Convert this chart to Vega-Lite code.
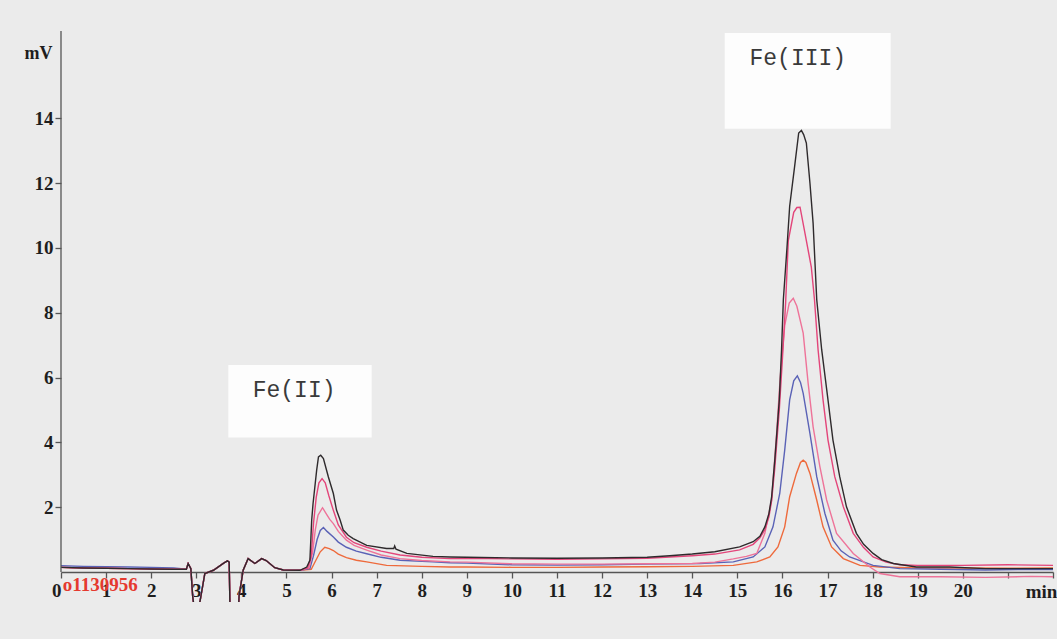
{
"$schema": "https://vega.github.io/schema/vega-lite/v6.json",
"width": 992, "height": 571,
"autosize": {"type": "none"},
"padding": {"left": 61, "top": 31, "right": 4, "bottom": 37},
"background": "#ebebeb",
"config": {"view": {"stroke": null}},
"datasets": {
"boxes": [
{"x": 14.72, "x2": 18.40, "y": 13.68, "y2": 16.64},
{"x": 3.71, "x2": 6.89, "y": 4.15, "y2": 6.39}
],
"labels": [
{"x": 16.34, "y": 15.87, "text": "Fe(III)"},
{"x": 5.17, "y": 5.62, "text": "Fe(II)"}
],
"axisline": [{"x": 0, "y": 0, "y2": 16.7}],
"code": [{"x": 0.04, "y": -0.41, "text": "o1130956"}],
"traces": [
{"s":"1","t":0,"v":0.14},{"s":"1","t":0.5,"v":0.12},{"s":"1","t":1,"v":0.11},{"s":"1","t":1.5,"v":0.1},{"s":"1","t":2,"v":0.09},{"s":"1","t":2.5,"v":0.08},{"s":"1","t":2.78,"v":0.08},{"s":"1","t":2.82,"v":0.26},{"s":"1","t":2.88,"v":0.1},{"s":"1","t":2.92,"v":-0.75},{"s":"1","t":2.97,"v":-1.3},{"s":"1","t":3.08,"v":-0.93},{"s":"1","t":3.19,"v":-0.05},{"s":"1","t":3.38,"v":0.05},{"s":"1","t":3.6,"v":0.26},{"s":"1","t":3.69,"v":0.34},{"s":"1","t":3.73,"v":0.3},{"s":"1","t":3.75,"v":-1.3},{"s":"1","t":3.93,"v":-1.3},{"s":"1","t":3.95,"v":-0.73},{"s":"1","t":4.04,"v":0.05},{"s":"1","t":4.15,"v":0.41},{"s":"1","t":4.3,"v":0.26},{"s":"1","t":4.45,"v":0.41},{"s":"1","t":4.55,"v":0.35},{"s":"1","t":4.74,"v":0.13},{"s":"1","t":4.93,"v":0.06},{"s":"1","t":5.3,"v":0.05},
{"s":"1","t":5.55,"v":0.08},{"s":"1","t":5.65,"v":0.35},{"s":"1","t":5.75,"v":0.62},{"s":"1","t":5.85,"v":0.76},{"s":"1","t":5.95,"v":0.72},{"s":"1","t":6.04,"v":0.66},{"s":"1","t":6.15,"v":0.55},{"s":"1","t":6.33,"v":0.44},{"s":"1","t":6.55,"v":0.36},{"s":"1","t":6.78,"v":0.31},{"s":"1","t":7.22,"v":0.2},{"s":"1","t":8,"v":0.17},{"s":"1","t":8.63,"v":0.15},{"s":"1","t":9,"v":0.15},{"s":"1","t":10,"v":0.14},{"s":"1","t":11,"v":0.14},{"s":"1","t":12,"v":0.15},{"s":"1","t":13,"v":0.16},{"s":"1","t":14,"v":0.17},{"s":"1","t":14.91,"v":0.2},{"s":"1","t":15.43,"v":0.31},{"s":"1","t":15.72,"v":0.46},{"s":"1","t":15.9,"v":0.77},{"s":"1","t":16.05,"v":1.39},{"s":"1","t":16.16,"v":2.32},{"s":"1","t":16.31,"v":3.04},{"s":"1","t":16.4,"v":3.38},{"s":"1","t":16.46,"v":3.45},{"s":"1","t":16.52,"v":3.38},{"s":"1","t":16.61,"v":3.04},{"s":"1","t":16.76,"v":2.22},{"s":"1","t":16.9,"v":1.39},{"s":"1","t":17.09,"v":0.77},{"s":"1","t":17.35,"v":0.41},{"s":"1","t":17.72,"v":0.2},{"s":"1","t":18.16,"v":0.15},{"s":"1","t":19,"v":0.12},{"s":"1","t":20,"v":0.12},{"s":"1","t":21,"v":0.11},{"s":"1","t":22,"v":0.12},

{"s":"2","t":0,"v":0.19},{"s":"2","t":0.5,"v":0.17},{"s":"2","t":1,"v":0.16},{"s":"2","t":1.5,"v":0.15},{"s":"2","t":2,"v":0.14},{"s":"2","t":2.5,"v":0.12},{"s":"2","t":2.78,"v":0.08},{"s":"2","t":2.82,"v":0.26},{"s":"2","t":2.88,"v":0.1},{"s":"2","t":2.92,"v":-0.75},{"s":"2","t":2.97,"v":-1.3},{"s":"2","t":3.08,"v":-0.93},{"s":"2","t":3.19,"v":-0.05},{"s":"2","t":3.38,"v":0.05},{"s":"2","t":3.6,"v":0.26},{"s":"2","t":3.69,"v":0.34},{"s":"2","t":3.73,"v":0.3},{"s":"2","t":3.75,"v":-1.3},{"s":"2","t":3.93,"v":-1.3},{"s":"2","t":3.95,"v":-0.73},{"s":"2","t":4.04,"v":0.05},{"s":"2","t":4.15,"v":0.41},{"s":"2","t":4.3,"v":0.26},{"s":"2","t":4.45,"v":0.41},{"s":"2","t":4.55,"v":0.35},{"s":"2","t":4.74,"v":0.13},{"s":"2","t":4.93,"v":0.06},{"s":"2","t":5.3,"v":0.05},
{"s":"2","t":5.52,"v":0.1},{"s":"2","t":5.6,"v":0.5},{"s":"2","t":5.68,"v":1.0},{"s":"2","t":5.75,"v":1.28},{"s":"2","t":5.82,"v":1.37},{"s":"2","t":5.9,"v":1.25},{"s":"2","t":6.04,"v":1.08},{"s":"2","t":6.15,"v":0.92},{"s":"2","t":6.33,"v":0.76},{"s":"2","t":6.55,"v":0.64},{"s":"2","t":6.78,"v":0.56},{"s":"2","t":7.1,"v":0.45},{"s":"2","t":7.52,"v":0.36},{"s":"2","t":8.25,"v":0.31},{"s":"2","t":8.63,"v":0.28},{"s":"2","t":9,"v":0.27},{"s":"2","t":10,"v":0.22},{"s":"2","t":11,"v":0.21},{"s":"2","t":12,"v":0.22},{"s":"2","t":13,"v":0.24},{"s":"2","t":14.17,"v":0.26},{"s":"2","t":14.91,"v":0.31},{"s":"2","t":15.35,"v":0.46},{"s":"2","t":15.61,"v":0.77},{"s":"2","t":15.79,"v":1.39},{"s":"2","t":15.94,"v":2.42},{"s":"2","t":16.05,"v":3.76},{"s":"2","t":16.16,"v":5.31},{"s":"2","t":16.25,"v":5.9},{"s":"2","t":16.33,"v":6.05},{"s":"2","t":16.4,"v":5.85},{"s":"2","t":16.46,"v":5.51},{"s":"2","t":16.61,"v":4.27},{"s":"2","t":16.76,"v":2.94},{"s":"2","t":16.94,"v":1.81},{"s":"2","t":17.12,"v":0.98},{"s":"2","t":17.3,"v":0.65},{"s":"2","t":17.49,"v":0.46},{"s":"2","t":18.01,"v":0.2},{"s":"2","t":18.6,"v":0.1},{"s":"2","t":19.5,"v":0.08},{"s":"2","t":20.5,"v":0.06},{"s":"2","t":21.5,"v":0.08},{"s":"2","t":22,"v":0.07},

{"s":"3","t":0,"v":0.14},{"s":"3","t":0.5,"v":0.12},{"s":"3","t":1,"v":0.11},{"s":"3","t":1.5,"v":0.1},{"s":"3","t":2,"v":0.09},{"s":"3","t":2.5,"v":0.08},{"s":"3","t":2.78,"v":0.08},{"s":"3","t":2.82,"v":0.26},{"s":"3","t":2.88,"v":0.1},{"s":"3","t":2.92,"v":-0.75},{"s":"3","t":2.97,"v":-1.3},{"s":"3","t":3.08,"v":-0.93},{"s":"3","t":3.19,"v":-0.05},{"s":"3","t":3.38,"v":0.05},{"s":"3","t":3.6,"v":0.26},{"s":"3","t":3.69,"v":0.34},{"s":"3","t":3.73,"v":0.3},{"s":"3","t":3.75,"v":-1.3},{"s":"3","t":3.93,"v":-1.3},{"s":"3","t":3.95,"v":-0.73},{"s":"3","t":4.04,"v":0.05},{"s":"3","t":4.15,"v":0.41},{"s":"3","t":4.3,"v":0.26},{"s":"3","t":4.45,"v":0.41},{"s":"3","t":4.55,"v":0.35},{"s":"3","t":4.74,"v":0.13},{"s":"3","t":4.93,"v":0.06},{"s":"3","t":5.3,"v":0.05},
{"s":"3","t":5.5,"v":0.12},{"s":"3","t":5.58,"v":0.6},{"s":"3","t":5.64,"v":1.3},{"s":"3","t":5.7,"v":1.75},{"s":"3","t":5.8,"v":1.98},{"s":"3","t":5.88,"v":1.8},{"s":"3","t":5.96,"v":1.62},{"s":"3","t":6.04,"v":1.49},{"s":"3","t":6.15,"v":1.25},{"s":"3","t":6.33,"v":0.98},{"s":"3","t":6.5,"v":0.82},{"s":"3","t":6.78,"v":0.67},{"s":"3","t":7.1,"v":0.52},{"s":"3","t":7.52,"v":0.41},{"s":"3","t":8,"v":0.35},{"s":"3","t":8.63,"v":0.31},{"s":"3","t":9,"v":0.3},{"s":"3","t":10,"v":0.25},{"s":"3","t":11,"v":0.24},{"s":"3","t":12,"v":0.24},{"s":"3","t":13,"v":0.25},{"s":"3","t":14,"v":0.26},{"s":"3","t":14.5,"v":0.3},{"s":"3","t":14.91,"v":0.4},{"s":"3","t":15.2,"v":0.48},{"s":"3","t":15.43,"v":0.57},{"s":"3","t":15.61,"v":1.19},{"s":"3","t":15.76,"v":2.22},{"s":"3","t":15.87,"v":4.27},{"s":"3","t":15.95,"v":6.0},{"s":"3","t":16.05,"v":7.6},{"s":"3","t":16.15,"v":8.3},{"s":"3","t":16.24,"v":8.45},{"s":"3","t":16.32,"v":8.2},{"s":"3","t":16.46,"v":7.37},{"s":"3","t":16.57,"v":5.82},{"s":"3","t":16.68,"v":4.48},{"s":"3","t":16.83,"v":3.25},{"s":"3","t":16.98,"v":2.22},{"s":"3","t":17.2,"v":1.19},{"s":"3","t":17.57,"v":0.57},{"s":"3","t":17.94,"v":0.15},{"s":"3","t":18.16,"v":-0.05},{"s":"3","t":18.6,"v":-0.15},{"s":"3","t":19.5,"v":-0.15},{"s":"3","t":20.5,"v":-0.17},{"s":"3","t":21.5,"v":-0.14},{"s":"3","t":22,"v":-0.15},

{"s":"4","t":0,"v":0.14},{"s":"4","t":0.5,"v":0.12},{"s":"4","t":1,"v":0.11},{"s":"4","t":1.5,"v":0.1},{"s":"4","t":2,"v":0.09},{"s":"4","t":2.5,"v":0.08},{"s":"4","t":2.78,"v":0.08},{"s":"4","t":2.82,"v":0.26},{"s":"4","t":2.88,"v":0.1},{"s":"4","t":2.92,"v":-0.75},{"s":"4","t":2.97,"v":-1.3},{"s":"4","t":3.08,"v":-0.93},{"s":"4","t":3.19,"v":-0.05},{"s":"4","t":3.38,"v":0.05},{"s":"4","t":3.6,"v":0.26},{"s":"4","t":3.69,"v":0.34},{"s":"4","t":3.73,"v":0.3},{"s":"4","t":3.75,"v":-1.3},{"s":"4","t":3.93,"v":-1.3},{"s":"4","t":3.95,"v":-0.73},{"s":"4","t":4.04,"v":0.05},{"s":"4","t":4.15,"v":0.41},{"s":"4","t":4.3,"v":0.26},{"s":"4","t":4.45,"v":0.41},{"s":"4","t":4.55,"v":0.35},{"s":"4","t":4.74,"v":0.13},{"s":"4","t":4.93,"v":0.06},{"s":"4","t":5.3,"v":0.05},
{"s":"4","t":5.47,"v":0.12},{"s":"4","t":5.55,"v":0.5},{"s":"4","t":5.6,"v":1.5},{"s":"4","t":5.66,"v":2.3},{"s":"4","t":5.72,"v":2.75},{"s":"4","t":5.79,"v":2.88},{"s":"4","t":5.86,"v":2.75},{"s":"4","t":5.94,"v":2.35},{"s":"4","t":6.04,"v":1.9},{"s":"4","t":6.15,"v":1.45},{"s":"4","t":6.33,"v":1.07},{"s":"4","t":6.5,"v":0.9},{"s":"4","t":6.78,"v":0.76},{"s":"4","t":7.1,"v":0.64},{"s":"4","t":7.52,"v":0.52},{"s":"4","t":8,"v":0.45},{"s":"4","t":8.63,"v":0.41},{"s":"4","t":9,"v":0.42},{"s":"4","t":10,"v":0.4},{"s":"4","t":11,"v":0.39},{"s":"4","t":12,"v":0.4},{"s":"4","t":13,"v":0.42},{"s":"4","t":13.5,"v":0.46},{"s":"4","t":14,"v":0.5},{"s":"4","t":14.5,"v":0.55},{"s":"4","t":15.05,"v":0.68},{"s":"4","t":15.35,"v":0.85},{"s":"4","t":15.5,"v":1.05},{"s":"4","t":15.61,"v":1.3},{"s":"4","t":15.7,"v":1.7},{"s":"4","t":15.76,"v":2.2},{"s":"4","t":15.83,"v":3.2},{"s":"4","t":15.93,"v":5.0},{"s":"4","t":16.0,"v":6.6},{"s":"4","t":16.07,"v":8.3},{"s":"4","t":16.13,"v":10.23},{"s":"4","t":16.25,"v":11.1},{"s":"4","t":16.32,"v":11.25},{"s":"4","t":16.39,"v":11.26},{"s":"4","t":16.5,"v":10.45},{"s":"4","t":16.64,"v":9.41},{"s":"4","t":16.71,"v":8.41},{"s":"4","t":16.79,"v":6.86},{"s":"4","t":16.9,"v":5.31},{"s":"4","t":17.01,"v":4.07},{"s":"4","t":17.16,"v":2.94},{"s":"4","t":17.35,"v":2.01},{"s":"4","t":17.57,"v":1.19},{"s":"4","t":17.8,"v":0.75},{"s":"4","t":18.01,"v":0.46},{"s":"4","t":18.3,"v":0.3},{"s":"4","t":18.6,"v":0.22},{"s":"4","t":19,"v":0.2},{"s":"4","t":20,"v":0.2},{"s":"4","t":21,"v":0.22},{"s":"4","t":22,"v":0.2},

{"s":"5","t":0,"v":0.14},{"s":"5","t":0.5,"v":0.12},{"s":"5","t":1,"v":0.11},{"s":"5","t":1.5,"v":0.1},{"s":"5","t":2,"v":0.09},{"s":"5","t":2.5,"v":0.08},{"s":"5","t":2.78,"v":0.08},{"s":"5","t":2.82,"v":0.26},{"s":"5","t":2.88,"v":0.1},{"s":"5","t":2.92,"v":-0.75},{"s":"5","t":2.97,"v":-1.3},{"s":"5","t":3.08,"v":-0.93},{"s":"5","t":3.19,"v":-0.05},{"s":"5","t":3.38,"v":0.05},{"s":"5","t":3.6,"v":0.26},{"s":"5","t":3.69,"v":0.34},{"s":"5","t":3.73,"v":0.3},{"s":"5","t":3.75,"v":-1.3},{"s":"5","t":3.93,"v":-1.3},{"s":"5","t":3.95,"v":-0.73},{"s":"5","t":4.04,"v":0.05},{"s":"5","t":4.15,"v":0.41},{"s":"5","t":4.3,"v":0.26},{"s":"5","t":4.45,"v":0.41},{"s":"5","t":4.55,"v":0.35},{"s":"5","t":4.74,"v":0.13},{"s":"5","t":4.93,"v":0.06},{"s":"5","t":5.3,"v":0.05},
{"s":"5","t":5.45,"v":0.15},{"s":"5","t":5.52,"v":0.36},{"s":"5","t":5.56,"v":1.6},{"s":"5","t":5.59,"v":2.11},{"s":"5","t":5.67,"v":3.14},{"s":"5","t":5.71,"v":3.55},{"s":"5","t":5.76,"v":3.6},{"s":"5","t":5.82,"v":3.5},{"s":"5","t":5.93,"v":2.93},{"s":"5","t":6.04,"v":2.42},{"s":"5","t":6.11,"v":1.91},{"s":"5","t":6.19,"v":1.6},{"s":"5","t":6.26,"v":1.29},{"s":"5","t":6.37,"v":1.13},{"s":"5","t":6.48,"v":1.03},{"s":"5","t":6.78,"v":0.82},{"s":"5","t":7.22,"v":0.72},{"s":"5","t":7.38,"v":0.72},{"s":"5","t":7.4,"v":0.8},{"s":"5","t":7.43,"v":0.7},{"s":"5","t":7.67,"v":0.57},{"s":"5","t":8.25,"v":0.48},{"s":"5","t":8.63,"v":0.46},{"s":"5","t":9,"v":0.45},{"s":"5","t":10,"v":0.43},{"s":"5","t":11,"v":0.42},{"s":"5","t":12,"v":0.43},{"s":"5","t":13,"v":0.45},{"s":"5","t":13.5,"v":0.5},{"s":"5","t":14,"v":0.55},{"s":"5","t":14.5,"v":0.62},{"s":"5","t":15.05,"v":0.77},{"s":"5","t":15.35,"v":0.93},{"s":"5","t":15.5,"v":1.1},{"s":"5","t":15.61,"v":1.39},{"s":"5","t":15.7,"v":1.8},{"s":"5","t":15.76,"v":2.32},{"s":"5","t":15.83,"v":3.45},{"s":"5","t":15.93,"v":5.31},{"s":"5","t":15.98,"v":6.86},{"s":"5","t":16.02,"v":8.41},{"s":"5","t":16.1,"v":10.0},{"s":"5","t":16.16,"v":11.29},{"s":"5","t":16.27,"v":12.52},{"s":"5","t":16.36,"v":13.55},{"s":"5","t":16.42,"v":13.63},{"s":"5","t":16.47,"v":13.5},{"s":"5","t":16.53,"v":13.24},{"s":"5","t":16.61,"v":12.0},{"s":"5","t":16.68,"v":10.76},{"s":"5","t":16.76,"v":8.41},{"s":"5","t":16.87,"v":6.86},{"s":"5","t":17.01,"v":5.31},{"s":"5","t":17.12,"v":4.07},{"s":"5","t":17.27,"v":2.94},{"s":"5","t":17.42,"v":2.01},{"s":"5","t":17.64,"v":1.19},{"s":"5","t":17.8,"v":0.85},{"s":"5","t":18.01,"v":0.57},{"s":"5","t":18.2,"v":0.38},{"s":"5","t":18.46,"v":0.26},{"s":"5","t":18.97,"v":0.15},{"s":"5","t":19.71,"v":0.15},{"s":"5","t":20.5,"v":0.1},{"s":"5","t":21,"v":0.1},{"s":"5","t":22,"v":0.1}
]
},
"layer": [
{
"data": {"name": "traces"},
"mark": {"type": "line", "strokeWidth": 1.4, "clip": true},
"encoding": {
"x": {"field": "t", "type": "quantitative", "title": "min",
"scale": {"domain": [0, 22], "nice": false, "zero": false},
"axis": {"values": [0,1,2,3,4,5,6,7,8,9,10,11,12,13,14,15,16,17,18,19,20,21,22],
"labelExpr": "datum.value > 20 ? '' : datum.label",
"labelAlign": {"condition": {"test": "datum.value == 0", "value": "right"}, "value": "center"},
"offset": -30, "grid": false, "domainColor": "#555555", "domainWidth": 1.3,
"tickColor": "#555555", "tickWidth": 1.3, "tickSize": 6,
"labelFont": "Liberation Serif", "labelFontWeight": "bold", "labelFontSize": 19, "labelColor": "#1e1e1e", "labelPadding": 3,
"labelFlush": false, "labelOverlap": false,
"titleFont": "Liberation Serif", "titleFontWeight": "bold", "titleFontSize": 19, "titleColor": "#1e1e1e",
"titleX": 980, "titleY": 19, "titleAlign": "center", "titleBaseline": "middle"}},
"y": {"field": "v", "type": "quantitative", "title": "mV",
"scale": {"domain": [-0.93, 16.7], "nice": false, "zero": false},
"axis": {"values": [2,4,6,8,10,12,14], "domain": false, "grid": false,
"tickColor": "#555555", "tickWidth": 1.3, "tickSize": 6,
"labelFont": "Liberation Serif", "labelFontWeight": "bold", "labelFontSize": 19, "labelColor": "#1e1e1e", "labelPadding": 2,
"titleFont": "Liberation Serif", "titleFontWeight": "bold", "titleFontSize": 18, "titleColor": "#1e1e1e",
"titleAngle": 0, "titleX": -23, "titleY": 22, "titleAlign": "center", "titleBaseline": "middle"}},
"color": {"field": "s", "type": "nominal", "legend": null,
"scale": {"domain": ["1","2","3","4","5"], "range": ["#ee6a3c", "#5a62b6", "#ee7399", "#e3457a", "#2e2a2c"]}}
}
},
{
"data": {"name": "boxes"},
"mark": {"type": "rect", "fill": "#fdfdfd"},
"encoding": {
"x": {"field": "x", "type": "quantitative", "title": "min"},
"x2": {"field": "x2"},
"y": {"field": "y", "type": "quantitative", "title": "mV"},
"y2": {"field": "y2"}
}
},
{
"data": {"name": "labels"},
"mark": {"type": "text", "font": "Liberation Mono", "fontSize": 23, "color": "#3a3a3a", "align": "center", "baseline": "middle"},
"encoding": {
"x": {"field": "x", "type": "quantitative", "title": "min"},
"y": {"field": "y", "type": "quantitative", "title": "mV"},
"text": {"field": "text"}
}
},
{
"data": {"name": "axisline"},
"mark": {"type": "rule", "color": "#555555", "strokeWidth": 1.3},
"encoding": {
"x": {"field": "x", "type": "quantitative", "title": "min"},
"y": {"field": "y", "type": "quantitative", "title": "mV"},
"y2": {"field": "y2"}
}
},
{
"data": {"name": "code"},
"mark": {"type": "text", "font": "Liberation Serif", "fontWeight": "bold", "fontSize": 19, "color": "#e5392f", "align": "left", "baseline": "middle"},
"encoding": {
"x": {"field": "x", "type": "quantitative", "title": "min"},
"y": {"field": "y", "type": "quantitative", "title": "mV"},
"text": {"field": "text"}
}
}
]
}
